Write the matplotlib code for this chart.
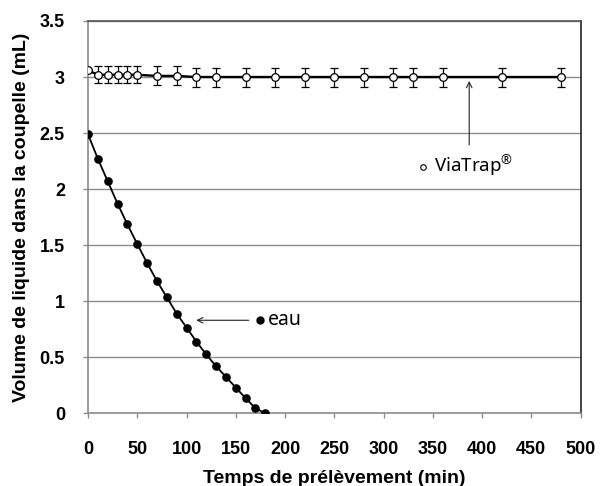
import matplotlib
matplotlib.use("Agg")
import matplotlib.pyplot as plt
import numpy as np

# eau : volume (mL) vs temps (min)
eau_t = [0, 10, 20, 30, 40, 50, 60, 70, 80, 90, 100, 110, 120, 130, 140, 150, 160, 170, 180]
eau_v = [2.49, 2.27, 2.07, 1.87, 1.685, 1.51, 1.34, 1.18, 1.035, 0.89, 0.765, 0.64,
         0.525, 0.42, 0.325, 0.23, 0.135, 0.045, 0.0]

# ViaTrap : volume (mL) +/- erreur
via_t = [0, 10, 20, 30, 40, 50, 70, 90, 110, 130, 160, 190, 220, 250, 280, 310, 330, 360, 420, 480]
via_v = [3.06, 3.02, 3.02, 3.02, 3.02, 3.02, 3.01, 3.01, 3.0, 3.0, 3.0, 3.0, 3.0, 3.0,
         3.0, 3.0, 3.0, 3.0, 3.0, 3.0]
via_err = [0.0, 0.075, 0.075, 0.075, 0.075, 0.075, 0.085, 0.085, 0.085, 0.085, 0.085,
           0.085, 0.085, 0.085, 0.085, 0.085, 0.085, 0.085, 0.085, 0.085]

x_ticks = np.arange(0, 501, 50)
y_ticks = np.arange(0, 3.51, 0.5)

BOLD = ["Liberation Sans", "DejaVu Sans"]
plt.rcParams["font.family"] = ["Noto Sans", "DejaVu Sans"]
plt.rcParams["mathtext.fontset"] = "custom"
plt.rcParams["mathtext.rm"] = "Noto Sans"
plt.rcParams["mathtext.default"] = "regular"

fig = plt.figure(figsize=(6, 4.86), dpi=100)
ax = fig.add_axes([0.1467, 0.1496, 0.8208, 0.8072])

ax.set_axisbelow(True)
ax.yaxis.grid(True, color="#8c8c8c", linewidth=1.0)

ax.plot(eau_t, eau_v, color="black", linewidth=1.3, marker="o", markersize=5.2,
        markerfacecolor="black", markeredgecolor="black", zorder=3)
ax.errorbar(via_t, via_v, yerr=via_err, color="black", linewidth=1.7, marker="o",
            markersize=5.5, markerfacecolor="white", markeredgecolor="black",
            markeredgewidth=0.9, ecolor="black", elinewidth=0.9, capsize=3,
            capthick=0.9, zorder=3)

ax.set_xlim(0, 500)
ax.set_ylim(0, 3.5)
ax.set_xticks(x_ticks)
ax.set_yticks(y_ticks)
ax.set_xticklabels([f"{int(v)}" for v in x_ticks])
ax.set_yticklabels(["0", "0.5", "1", "1.5", "2", "2.5", "3", "3.5"])
ax.tick_params(axis="both", labelsize=13, color="#8c8c8c", length=3.6, width=1)
ax.tick_params(axis="x", pad=16)
ax.tick_params(axis="y", pad=13)
for lab in ax.get_xticklabels() + ax.get_yticklabels():
    lab.set_family(BOLD)
    lab.set_fontweight("bold")

ax.spines["left"].set_color("#8c8c8c")
ax.spines["bottom"].set_color("#8c8c8c")
ax.spines["top"].set_color("#555555")
ax.spines["right"].set_color("#222222")
for s in ax.spines.values():
    s.set_linewidth(1.2)

ax.set_xlabel("Temps de prélèvement (min)", fontsize=14, fontweight="bold",
              family=BOLD, labelpad=9)
ax.set_ylabel("Volume de liquide dans la coupelle (mL)", fontsize=14, fontweight="bold",
              family=BOLD, labelpad=7)

# annotations
ax.annotate("", xy=(387, 2.99), xytext=(387, 2.37),
            arrowprops=dict(arrowstyle="->", color="#222222", lw=0.8))
ax.plot([340], [2.2], marker="o", markersize=4, markerfacecolor="white",
        markeredgecolor="black", markeredgewidth=0.8, clip_on=False)
ax.text(351, 2.2, "ViaTrap$^{®}$", fontsize=13.5, va="center", ha="left")

ax.annotate("", xy=(107, 0.83), xytext=(166, 0.83),
            arrowprops=dict(arrowstyle="->", color="#222222", lw=0.8))
ax.plot([174.5], [0.83], marker="o", markersize=5, color="black")
ax.text(183, 0.83, "eau", fontsize=14, va="center", ha="left")

fig.savefig("out.png", dpi=100)
